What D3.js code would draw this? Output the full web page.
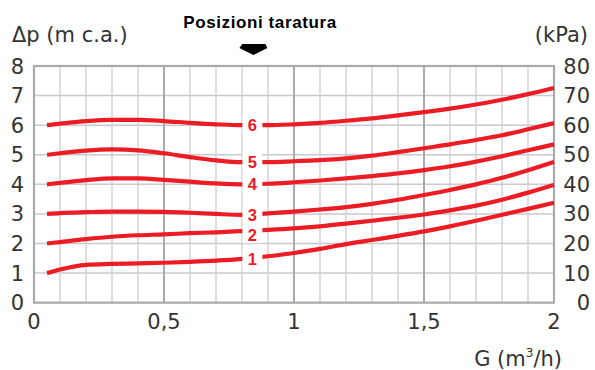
<!DOCTYPE html>
<html><head><meta charset="utf-8">
<script src="https://cdn.jsdelivr.net/npm/d3@7"></script>
<style>
html,body{margin:0;padding:0;background:#fff;}
svg{display:block;}
</style></head>
<body>
<svg id="c" width="595" height="370"></svg>
<script>
// ---- data ----
const flow = [0.05,0.1,0.2,0.3,0.4,0.5,0.6,0.7,0.8,0.9,1.0,1.1,1.2,1.3,1.4,1.5,1.6,1.7,1.8,1.9,2.0];
const pos1 = [1.0,1.12,1.28,1.31,1.33,1.35,1.38,1.42,1.48,1.57,1.68,1.82,1.98,2.12,2.26,2.41,2.58,2.77,2.97,3.17,3.38];
const pos2 = [2.0,2.05,2.15,2.23,2.28,2.31,2.35,2.38,2.42,2.46,2.51,2.58,2.67,2.77,2.87,2.98,3.12,3.28,3.48,3.72,3.98];
const pos3 = [3.0,3.03,3.06,3.08,3.08,3.07,3.04,3.0,2.97,3.02,3.08,3.15,3.23,3.34,3.48,3.64,3.81,4.0,4.22,4.48,4.76];
const pos4 = [4.0,4.05,4.14,4.2,4.2,4.15,4.09,4.03,4.0,4.02,4.07,4.13,4.2,4.28,4.37,4.48,4.61,4.77,4.95,5.15,5.35];
const pos5 = [5.0,5.05,5.14,5.18,5.15,5.05,4.92,4.81,4.75,4.75,4.78,4.82,4.88,4.97,5.09,5.22,5.35,5.5,5.66,5.86,6.07];
const pos6 = [6.0,6.05,6.14,6.18,6.18,6.14,6.08,6.03,6.0,6.0,6.03,6.08,6.15,6.23,6.33,6.44,6.56,6.7,6.86,7.05,7.26];
const seriesNames = ["1","2","3","4","5","6"];
const seriesValues = [pos1,pos2,pos3,pos4,pos5,pos6];
const labelFlow = 0.84;
const xTicks = [0,0.5,1,1.5,2];
const xTickLabels = ["0","0,5","1","1,5","2"];
const yTicks = [0,1,2,3,4,5,6,7,8];
const kpaTicks = [0,10,20,30,40,50,60,70,80];

// ---- chart ----
const svg = d3.select("#c");
const x = d3.scaleLinear().domain([0,2]).range([34,554]);
const y = d3.scaleLinear().domain([0,8]).range([302.7,66]);
const yk = d3.scaleLinear().domain([0,80]).range([302.7,66]);
const txt = "#333";
const font = "'DejaVu Sans', sans-serif";
const labelDy = [1,4,1,0,0,0];

// grid
const g = svg.append("g");
g.selectAll("line.h").data(yTicks.slice(1,-1)).enter().append("line")
  .attr("x1",x(0)).attr("x2",x(2)).attr("y1",d=>y(d)).attr("y2",d=>y(d))
  .attr("stroke","#cacace").attr("stroke-width",1.5);
const minor = d3.range(1,20).map(i=>i/10).filter(v=>Math.abs(v*2-Math.round(v*2))>1e-6);
g.selectAll("line.vm").data(minor).enter().append("line")
  .attr("x1",d=>x(d)).attr("x2",d=>x(d)).attr("y1",y(0)).attr("y2",y(8))
  .attr("stroke","#cdcdd1").attr("stroke-width",1.3);
g.selectAll("line.vM").data([0.5,1,1.5]).enter().append("line")
  .attr("x1",d=>x(d)).attr("x2",d=>x(d)).attr("y1",y(0)).attr("y2",y(8))
  .attr("stroke","#a9a9af").attr("stroke-width",2);
g.append("rect").attr("x",x(0)).attr("y",y(8)).attr("width",x(2)-x(0)).attr("height",y(0)-y(8))
  .attr("fill","none").attr("stroke","#a9a9af").attr("stroke-width",2.2);

// curves
const line = d3.line().x(d=>x(d[0])).y(d=>y(d[1])).curve(d3.curveMonotoneX);
seriesValues.forEach(vals=>{
  svg.append("path").datum(flow.map((f,i)=>[f,vals[i]]))
    .attr("d",line).attr("fill","none").attr("stroke","#ec1c24")
    .attr("stroke-width",4.2).attr("stroke-linecap","butt");
});

// labels
seriesValues.forEach((vals,k)=>{
  const i = d3.bisectLeft(flow,labelFlow);
  const t = (labelFlow-flow[i-1])/(flow[i]-flow[i-1]);
  const v = vals[i-1]+(vals[i]-vals[i-1])*t;
  const cx = x(labelFlow), cy = y(v)+labelDy[k];
  svg.append("rect").attr("x",cx-10).attr("y",cy-8.5).attr("width",20).attr("height",17).attr("fill","#fff");
  svg.append("text").attr("x",cx).attr("y",cy+6).attr("text-anchor","middle")
    .attr("font-family","'Liberation Sans', Arial, sans-serif").attr("font-weight","bold")
    .attr("font-size",16.5).attr("fill","#ec1c24").text(seriesNames[k]);
});

// axes labels
svg.selectAll("text.yl").data(yTicks).enter().append("text")
  .attr("x",24).attr("y",d=>y(d)+7.5).attr("text-anchor","end")
  .attr("font-family",font).attr("font-size",21).attr("fill",txt).text(d=>d);
svg.selectAll("text.yr").data(kpaTicks).enter().append("text")
  .attr("x",590).attr("y",d=>yk(d)+7.5).attr("text-anchor","end")
  .attr("font-family",font).attr("font-size",21).attr("fill",txt).text(d=>d);
svg.selectAll("text.xl").data(xTicks).enter().append("text")
  .attr("x",d=>x(d)).attr("y",329).attr("text-anchor","middle")
  .attr("font-family",font).attr("font-size",21).attr("fill",txt).text((d,i)=>xTickLabels[i]);

svg.append("text").attr("x",12).attr("y",42).attr("font-family",font).attr("font-size",21).attr("fill",txt).text("Δp (m c.a.)");
svg.append("text").attr("x",588).attr("y",42).attr("text-anchor","end").attr("font-family",font).attr("font-size",21).attr("fill",txt).text("(kPa)");
const gt = svg.append("text").attr("x",562).attr("y",366).attr("text-anchor","end").attr("font-family",font).attr("font-size",21).attr("fill",txt);
gt.append("tspan").text("G (m");
gt.append("tspan").attr("font-size",12).attr("dy",-9).text("3");
gt.append("tspan").attr("dy",9).text("/h)");

svg.append("text").attr("x",260).attr("y",28).attr("text-anchor","middle")
  .attr("font-family","'Liberation Sans', Arial, sans-serif").attr("font-weight","bold")
  .attr("font-size",17).attr("letter-spacing",0.6).attr("fill","#000").text("Posizioni taratura");
const ax = x(labelFlow)+1;
svg.append("path").attr("d",`M${ax-11},44 L${ax+12},44 L${ax+14},48 L${ax},55 L${ax-14},48 Z`).attr("fill","#000");
</script>
</body></html>
